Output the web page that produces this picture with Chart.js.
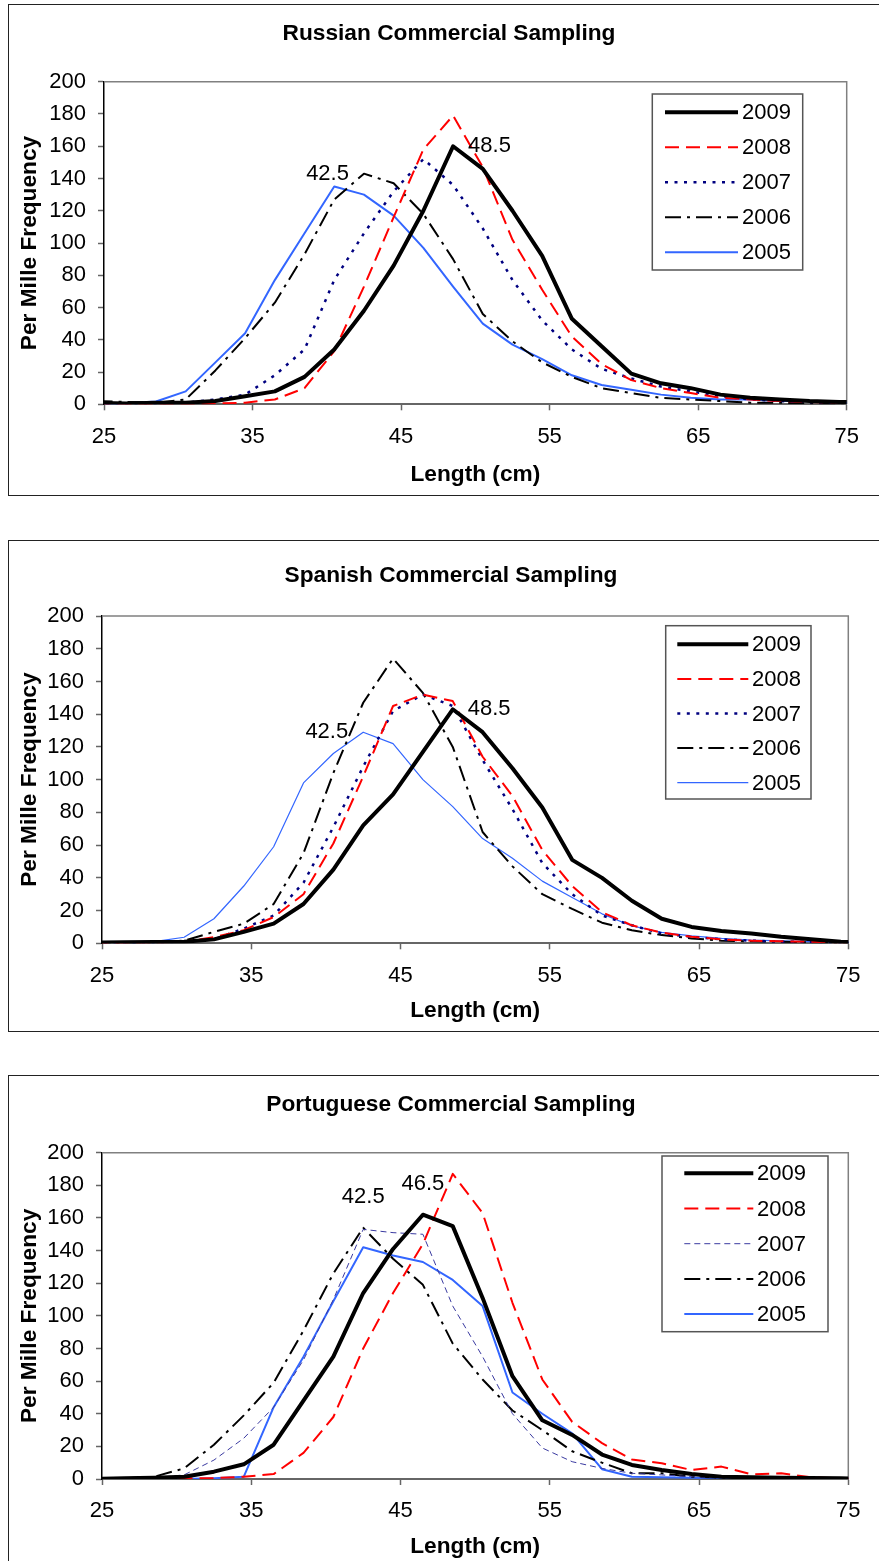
<!DOCTYPE html>
<html><head><meta charset="utf-8">
<script src="https://cdn.jsdelivr.net/npm/chart.js@4.4.1/dist/chart.umd.min.js"></script>
<style>
html,body{margin:0;padding:0;background:#fff;overflow:hidden;width:879px;height:1561px;position:relative;}
canvas{position:absolute;left:0;}
.box{position:absolute;left:8px;width:900px;border:1.5px solid #222;box-sizing:border-box;pointer-events:none;}
</style></head><body>
<canvas id="c1" width="898" height="500" style="top:0px;width:898px;height:500px"></canvas>
<canvas id="c2" width="898" height="498" style="top:536px;width:898px;height:498px"></canvas>
<canvas id="c3" width="898" height="489" style="top:1072px;width:898px;height:489px"></canvas>
<div class="box" style="top:3.5px;height:492px"></div>
<div class="box" style="top:539.5px;height:492.5px"></div>
<div class="box" style="top:1075px;height:500px"></div>
<script>
// ---------- DATA ----------
const lengths = [24.5,26.5,28.5,30.5,32.5,34.5,36.5,38.5,40.5,42.5,44.5,46.5,48.5,50.5,52.5,54.5,56.5,58.5,60.5,62.5,64.5,66.5,68.5,70.5,72.5,74.5,76.5];
const years = ['2009','2008','2007','2006','2005'];
const xTickValues = [25,35,45,55,65,75];
const yTickValues = [0,20,40,60,80,100,120,140,160,180,200];
const chartTitles = ['Russian Commercial Sampling','Spanish Commercial Sampling','Portuguese Commercial Sampling'];
const xAxisTitle = 'Length (cm)';
const yAxisTitle = 'Per Mille Frequency';

// Russian
const russian2009 = [1,0.5,1,1,2,5,8,17,34,58,86,120,160,146,120,92,53,36,19,13,10,6,4,3,2,1.5,1];
const russian2008 = [0,0,0,0,0.5,1,3,10,33,73,116,158,179,147,102,71,42,25,15,10,7,4,3,2,1.5,1,0.5];
const russian2007 = [0.5,0.5,0.5,1,3,6,18,34,77,106,132,152,136,109,77,52,34,22,16,11,8,5,3,2,1.5,1,0.5];
const russian2006 = [2,1.5,1,3,21,41,63,93,127,143,137,118,90,56,39,26,17,10,7,4,3,2,1,1,0.5,0.5,0.5];
const russian2005 = [0,0.6,1.7,8,26,44,77,106,135,130,117,97,73,50,37,28,18,12,9,6,4,3,3,2,2,1,1];
// Spanish
const spanish2009 = [0.5,0.6,0.8,1,2.4,7,12,24,45,72,91,117,143,129,107,83,51,40,26,15,10,7.5,6,4,2.5,1,0.5];
const spanish2008 = [0,0.3,0.5,1,3.7,8,16,30,61,102,145,152,148,114,90,57,35,19,11,6.5,4,2.4,1.6,1.2,1,0.6,0.3];
const spanish2007 = [0,0.3,0.5,1,2.4,9,17,37,71,108,142,152,145,112,82,49,30,17,11,6,4,2.4,1.6,1,0.8,0.5,0.3];
const spanish2006 = [0,0.3,0.5,1.6,7,12,24,55,104,147,174,153,120,68,47,30,21,12.6,8,5,3,1.6,1.2,1,0.6,0.3,0];
const spanish2005 = [0.5,0.6,1,3.7,15,35,59,98,116,129,122,100,83.5,64,52,38,28,18,10.6,6.7,4.5,3,2,1.5,1,0.6,0.3];
// Portuguese
const portuguese2009 = [0,0.4,0.8,1.4,4.5,9,21,48,75,114,141,162,155,111,63,36,27,15,8.6,5.5,3,1.4,1,0.8,0.6,0.4,0.2];
const portuguese2008 = [0,0,0,0.5,0.5,1.4,3,16,38,80,114,144,187,163,108,61,35,22,12,9.6,5.5,7.6,2.9,3.5,1,0.4,0.2];
const portuguese2007 = [0,0.2,0.8,2.5,11.6,25,44,73,110,153,151,150,106,75,40,19,10.6,6.5,3.5,2.5,1.4,0.8,0.5,0.5,0.3,0.2,0];
const portuguese2006 = [0.3,0.5,1.4,6.5,21,39,59,91,126,154,135,119,83,61,42,30,17,10,3.5,3.5,1.4,0.8,0.5,0.5,0.3,0.2,0];
const portuguese2005 = [0,0,0,0,0.5,1.4,44,75,109,142,137,133,122,106,53,40,28,6,1.4,1,0.8,0.5,0.5,0.5,0.3,0.3,0.2];

// peak labels: which series, which length
const russianPeaks = [{year:'2006', x:42.5, pos:'left'},{year:'2009', x:48.5, pos:'right'}];
const spanishPeaks = [{year:'2005', x:42.5, pos:'left'},{year:'2009', x:48.5, pos:'right'}];
const portuguesePeaks = [{year:'2006', x:42.5, pos:'above'},{year:'2009', x:46.5, pos:'above'}];

// ---------- STYLES / LAYOUT ----------
const FONT = "'Liberation Sans', Arial, sans-serif";
const BOLD = 22.7;
const baseStyle = {
  '2009': {color:'#000000', width:4, dash:[]},
  '2008': {color:'#FF0000', width:2, dash:[14,7]},
  '2007': {color:'#000080', width:2.5, dash:[3,6.5]},
  '2006': {color:'#000000', width:2, dash:[16,6,3,6]},
  '2005': {color:'#3366FF', width:2, dash:[]}
};
const styleOverrides = [
  {},
  {'2005': {color:'#3366FF', width:1.2, dash:[]}},
  {'2007': {color:'#3a3aa0', width:1, dash:[6,4]}}
];
const geoms = [
  {h:500, left:104, right:846.7, top:81.7, bottom:404.3, titleX:449, titleY:34, xTitleY:475,
   legend:{x:652.3,y:94,w:150.4,h:176,row0:112.3,gap:35,l0:665,l1:738,tx:742}},
  {h:498, left:102, right:848.3, top:80, bottom:407.3, titleX:451, titleY:40, xTitleY:475,
   legend:{x:665.7,y:89.7,w:145.3,h:173.3,row0:108.3,gap:34.6,l0:677.3,l1:748.3,tx:752}},
  {h:489, left:102, right:848.3, top:80.7, bottom:407, titleX:451, titleY:33, xTitleY:474.7,
   legend:{x:662,y:84,w:166,h:175.7,row0:101.3,gap:35.2,l0:684.3,l1:753.3,tx:757}}
];
const seriesSets = [
  {'2009':russian2009,'2008':russian2008,'2007':russian2007,'2006':russian2006,'2005':russian2005},
  {'2009':spanish2009,'2008':spanish2008,'2007':spanish2007,'2006':spanish2006,'2005':spanish2005},
  {'2009':portuguese2009,'2008':portuguese2008,'2007':portuguese2007,'2006':portuguese2006,'2005':portuguese2005}
];
const peakSets = [russianPeaks, spanishPeaks, portuguesePeaks];

function styleFor(ci, y){ return Object.assign({}, baseStyle[y], styleOverrides[ci][y] || {}); }

const framePlugin = {
  id:'frame',
  beforeDatasetsDraw(chart){
    const {ctx, chartArea:a} = chart;
    ctx.save();
    ctx.strokeStyle = '#808080'; ctx.lineWidth = 1.5;
    ctx.beginPath(); ctx.moveTo(a.left, a.top); ctx.lineTo(a.right, a.top); ctx.lineTo(a.right, a.bottom); ctx.stroke();
    ctx.restore();
  }
};

function makeTitlePlugin(ci){
  return {
    id:'boxTitle',
    afterDraw(chart){
      const g = geoms[ci], ctx = chart.ctx;
      ctx.save();
      ctx.fillStyle = '#000'; ctx.font = 'bold ' + BOLD + 'px ' + FONT;
      ctx.textAlign = 'center'; ctx.textBaseline = 'middle';
      ctx.fillText(chartTitles[ci], g.titleX, g.titleY);
      ctx.restore();
    }
  };
}

function makeLegendPlugin(ci){
  return {
    id:'boxLegend',
    afterDraw(chart){
      const g = geoms[ci].legend, ctx = chart.ctx;
      ctx.save();
      ctx.fillStyle = '#fff';
      ctx.fillRect(g.x, g.y, g.w, g.h);
      ctx.strokeStyle = '#555'; ctx.lineWidth = 1.5;
      ctx.strokeRect(g.x, g.y, g.w, g.h);
      chart.data.datasets.forEach((ds, i) => {
        const y = g.row0 + i * g.gap;
        ctx.strokeStyle = ds.borderColor; ctx.lineWidth = ds.borderWidth;
        ctx.setLineDash(ds.borderDash || []);
        ctx.beginPath(); ctx.moveTo(g.l0, y); ctx.lineTo(g.l1, y); ctx.stroke();
        ctx.setLineDash([]);
        ctx.fillStyle = '#000'; ctx.font = '22px ' + FONT;
        ctx.textAlign = 'left'; ctx.textBaseline = 'middle';
        ctx.fillText(ds.label, g.tx, y + 1);
      });
      ctx.restore();
    }
  };
}

function makePeakPlugin(ci){
  return {
    id:'peakLabels',
    afterDatasetsDraw(chart){
      const ctx = chart.ctx, xs = chart.scales.x, ys = chart.scales.y;
      ctx.save();
      ctx.fillStyle = '#000'; ctx.font = '22px ' + FONT; ctx.textBaseline = 'middle';
      peakSets[ci].forEach(p => {
        const idx = lengths.indexOf(p.x);
        const val = seriesSets[ci][p.year][idx];
        const px = xs.getPixelForValue(p.x), py = ys.getPixelForValue(val);
        const txt = p.x.toFixed(1);
        if (p.pos === 'left') { ctx.textAlign = 'right'; ctx.fillText(txt, px - 15, py); }
        else if (p.pos === 'right') { ctx.textAlign = 'left'; ctx.fillText(txt, px + 15, py); }
        else { ctx.textAlign = 'center'; ctx.fillText(txt, px, py - 31); }
      });
      ctx.restore();
    }
  };
}

function buildChart(ci){
  const g = geoms[ci];
  const datasets = years.map(y => {
    const s = styleFor(ci, y);
    return {
      label: y,
      data: lengths.map((x, i) => ({x: x, y: seriesSets[ci][y][i]})),
      borderColor: s.color, backgroundColor: s.color,
      borderWidth: s.width, borderDash: s.dash,
      borderJoinStyle: 'round', borderCapStyle: 'butt',
      pointRadius: 0, tension: 0, fill: false
    };
  });
  const lh = BOLD * 1.2;
  const xAxisH = g.h - g.bottom;
  const xTitlePad = (g.h - g.xTitleY) - lh / 2;
  new Chart(document.getElementById('c' + (ci + 1)), {
    type: 'line',
    data: {datasets},
    plugins: [framePlugin, makePeakPlugin(ci), makeLegendPlugin(ci), makeTitlePlugin(ci)],
    options: {
      responsive: false, animation: false, devicePixelRatio: 1,
      layout: {padding: {left: 0, top: g.top, right: 898 - g.right, bottom: 0}},
      plugins: {
        legend: {display: false}, tooltip: {enabled: false}, title: {display: false}
      },
      scales: {
        x: {
          type: 'linear', min: 25, max: 75,
          afterBuildTicks: sc => { sc.ticks = xTickValues.map(v => ({value: v})); },
          afterFit: sc => { sc.height = xAxisH; },
          ticks: {color: '#000', font: {family: FONT, size: 22}, padding: 13, maxRotation: 0, autoSkip: false},
          grid: {drawOnChartArea: false, drawTicks: true, tickLength: 6, tickColor: '#666', tickWidth: 1.5},
          border: {display: true, color: '#666', width: 2},
          title: {display: true, text: xAxisTitle, color: '#000',
            font: {family: FONT, size: BOLD, weight: 'bold'}, padding: {top: 0, bottom: xTitlePad}}
        },
        y: {
          type: 'linear', min: 0, max: 200,
          afterBuildTicks: sc => { sc.ticks = yTickValues.map(v => ({value: v})); },
          afterFit: sc => { sc.width = g.left; },
          ticks: {color: '#000', font: {family: FONT, size: 22}, padding: 12, autoSkip: false},
          grid: {drawOnChartArea: false, drawTicks: true, tickLength: 6, tickColor: '#666', tickWidth: 1.5},
          border: {display: true, color: '#000', width: 1.5},
          title: {display: true, text: yAxisTitle, color: '#000',
            font: {family: FONT, size: BOLD, weight: 'bold'}, padding: {top: 30 - lh / 2, bottom: 0}}
        }
      }
    }
  });
}
[0, 1, 2].forEach(buildChart);
</script>
</body></html>
